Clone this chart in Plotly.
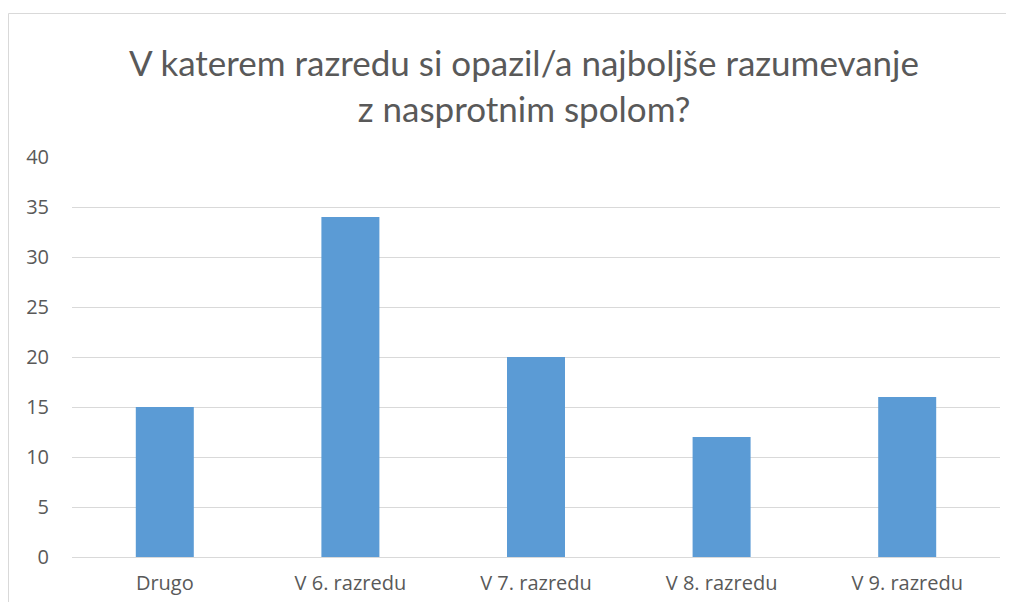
import plotly.graph_objects as go

categories = ["Drugo", "V 6. razredu", "V 7. razredu", "V 8. razredu", "V 9. razredu"]
values = [15, 34, 20, 12, 16]
y_ticks = [0, 5, 10, 15, 20, 25, 30, 35, 40]
title_text = "V katerem razredu si opazil/a najboljše razumevanje<br>z nasprotnim spolom?"

# page has an 8px body margin, so the figure starts at (8, 8)
W, H = 1006, 594
L, R, T, B = 64, 14, 149, 45
pw, ph = W - L - R, H - T - B

fig = go.Figure(go.Bar(x=categories, y=values, marker=dict(color="#5B9BD5", line=dict(width=0))))

border_x = (0.5 - L) / pw
border_top = (H - B - 5.5) / ph

fig.update_layout(
    width=W, height=H,
    margin=dict(l=L, r=R, t=T, b=B, autoexpand=False),
    paper_bgcolor="white", plot_bgcolor="white",
    bargap=0.6875,
    showlegend=False,
    font=dict(family="Open Sans", color="#595959"),
    title=dict(text=title_text, x=516 / W, xanchor="center", xref="container",
               y=1 - 68 / H, yanchor="middle",
               font=dict(size=35, color="#595959", family="Lato")),
    xaxis=dict(showgrid=False, showline=False, ticks="", ticklabelstandoff=12,
               tickfont=dict(size=20, color="#595959")),
    yaxis=dict(range=[0, 40], tickvals=y_ticks, showgrid=True, gridcolor="#D9D9D9", gridwidth=1,
               zeroline=True, zerolinecolor="#D9D9D9", zerolinewidth=1,
               showline=False, ticks="", ticklabelstandoff=22,
               tickfont=dict(size=20, color="#595959")),
    shapes=[
        dict(type="line", xref="paper", yref="paper",
             x0=border_x, x1=(W + 40 - L) / pw, y0=border_top, y1=border_top,
             line=dict(color="#D9D9D9", width=1), layer="below"),
        dict(type="line", xref="paper", yref="paper",
             x0=border_x, x1=border_x, y0=border_top, y1=-B / ph,
             line=dict(color="#D9D9D9", width=1), layer="below"),
    ],
)

fig.write_html("out.html", config={"displayModeBar": False})
